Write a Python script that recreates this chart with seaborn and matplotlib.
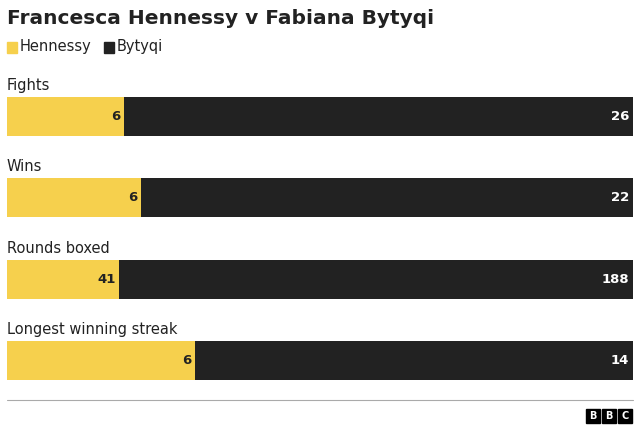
import matplotlib
matplotlib.use("Agg")
import matplotlib.pyplot as plt
import seaborn as sns
import pandas as pd
from matplotlib.patches import Rectangle

categories = ["Fights", "Wins", "Rounds boxed", "Longest winning streak"]
hennessy = [6, 6, 41, 6]
bytyqi = [26, 22, 188, 14]

YEL = "#f6d04d"
BLK = "#222222"

sns.set_theme(style="white")
plt.rcParams['font.family'] = ['DejaVu Sans']

totals = [h + b for h, b in zip(hennessy, bytyqi)]
share_h = [h / t for h, t in zip(hennessy, totals)]
df = pd.DataFrame({"cat": categories, "total": [1.0] * 4, "h": share_h})

fig = plt.figure(figsize=(6.4, 4.25), dpi=100)
ax = fig.add_axes([7/640, 45/425, 626/640, 283/425])
sns.barplot(data=df, y="cat", x="total", color=BLK, width=0.48, ax=ax, orient="h", saturation=1, linewidth=0)
sns.barplot(data=df, y="cat", x="h", color=YEL, width=0.48, ax=ax, orient="h", saturation=1, linewidth=0)
ax.set_xlim(0, 1)
ax.set_ylim(3.24, -0.24)
ax.axis("off")

for i, (c, h, b, s) in enumerate(zip(categories, hennessy, bytyqi, share_h)):
    ax.text(0, i - 0.29, c, fontsize=10.5, color="#222222", va="bottom", ha="left")
    ax.text(s - 0.006, i, str(h), fontsize=9.5, fontweight="bold", color=BLK, va="center", ha="right")
    ax.text(0.994, i, str(b), fontsize=9.5, fontweight="bold", color="white", va="center", ha="right")

fig.text(7/640, 1 - 18/425, "Francesca Hennessy v Fabiana Bytyqi", fontsize=14.5, fontweight="bold",
         color="#222222", va="center", ha="left")
fig.patches.append(Rectangle((7/640, 1 - 53/425), 10/640, 11/425, transform=fig.transFigure, color=YEL))
fig.text(20/640, 1 - 47/425, "Hennessy", fontsize=10.5, color="#222222", va="center")
fig.patches.append(Rectangle((104/640, 1 - 53/425), 10/640, 11/425, transform=fig.transFigure, color=BLK))
fig.text(117/640, 1 - 47/425, "Bytyqi", fontsize=10.5, color="#222222", va="center")

fig.add_artist(plt.Line2D([7/640, 633/640], [1 - 400/425] * 2, color="#aaaaaa", lw=0.8))
for k, L in enumerate("BBC"):
    x0 = 586 + k * 16
    fig.patches.append(Rectangle((x0/640, 1 - 423/425), 14/640, 14/425, transform=fig.transFigure, color="black"))
    fig.text((x0 + 7)/640, 1 - 416/425, L, fontsize=7, fontweight="bold", color="white", ha="center", va="center")

fig.savefig("out.png", dpi=100, facecolor="white")
